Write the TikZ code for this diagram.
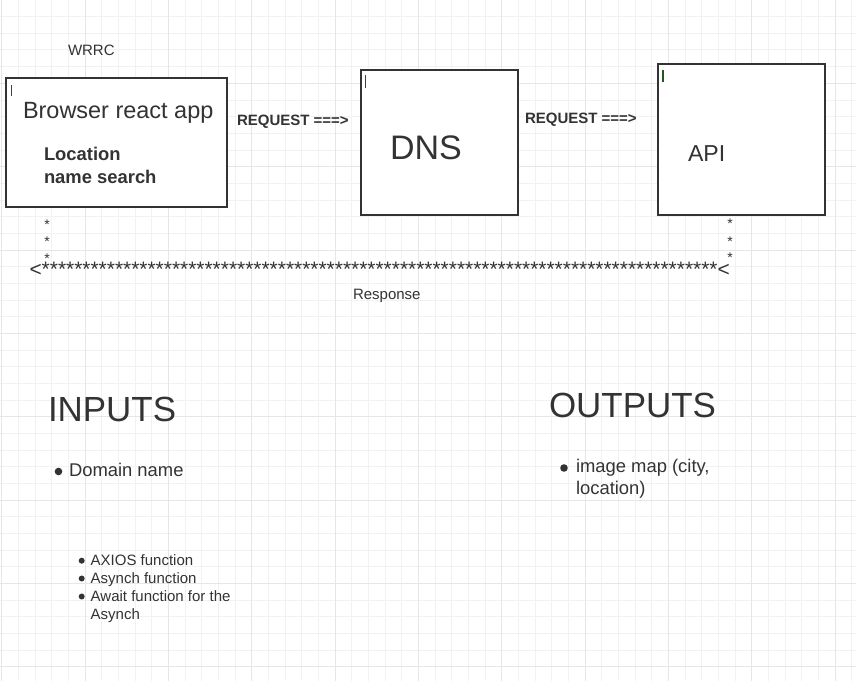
\documentclass[tikz,border=0pt]{standalone}
\usepackage{fontspec}
\setmainfont{Liberation Sans}
\definecolor{txt}{HTML}{333333}
\definecolor{gridminor}{HTML}{F2F2F2}
\definecolor{gridmajor}{HTML}{E6E6E6}
\definecolor{cursorcol}{HTML}{1E5A1E}
\begin{document}
\begin{tikzpicture}[x=0.75pt,y=-0.75pt,
  every node/.style={inner sep=0pt,outer sep=0pt,text=txt,anchor=base west},
  boxnode/.style={draw=txt,line width=0.9pt,fill=white,anchor=center},
  fa/.style={font=\fontsize{11.25pt}{13.5pt}\selectfont},
  fab/.style={font=\fontsize{11.25pt}{13.5pt}\selectfont\bfseries},
  fb/.style={font=\fontsize{13.8pt}{16.5pt}\selectfont},
  fbb/.style={font=\fontsize{13.8pt}{16.5pt}\selectfont\bfseries},
  fc/.style={font=\fontsize{17.6pt}{21pt}\selectfont},
  fapi/.style={font=\fontsize{17.3pt}{21pt}\selectfont},
  fd/.style={font=\fontsize{25.5pt}{30pt}\selectfont},
  fbig/.style={font=\fontsize{26.2pt}{31pt}\selectfont},
  fstar/.style={font=\fontsize{10.5pt}{12pt}\selectfont,anchor=base},
  frow/.style={font=\fontsize{15.7pt}{19pt}\selectfont},
  cursormark/.style={draw=cursorcol,line width=0.9pt},
  bulletdot/.style={fill=txt}
]
\useasboundingbox (0,0) rectangle (856,681);
\fill[white] (0,0) rectangle (856,681);
% grid
\foreach \k in {0,...,51} {\draw[gridminor,line width=0.75pt] ({1.67+16.667*\k},0) -- ({1.67+16.667*\k},681);}
\foreach \k in {0,...,40} {\draw[gridminor,line width=0.75pt] (0,{16.667*\k}) -- (856,{16.667*\k});}
\foreach \k in {0,...,10} {\draw[gridmajor,line width=0.75pt] ({1.67+83.333*\k},0) -- ({1.67+83.333*\k},681);}
\foreach \k in {0,...,8} {\draw[gridmajor,line width=0.75pt] (0,{83.333*\k}) -- (856,{83.333*\k});}

% boxes
\node[boxnode,minimum width=165.75pt,minimum height=96.75pt] (browser) at (116.5,142.5) {};
\node[boxnode,minimum width=117.75pt,minimum height=108.75pt] (dns) at (439.5,142.5) {};
\node[boxnode,minimum width=125.25pt,minimum height=113.25pt] (api) at (741.5,139.5) {};

% cursor marks
\draw[cursormark] (11.5,85) -- (11.5,96);
\draw[cursormark] (365.5,75) -- (365.5,88);
\draw[cursormark] (663,70) -- (663,82);

% texts
\node[fa] (wrrc) at (68,56) {WRRC};
\node[fc] (browsertitle) at (23,119) {Browser react app};
\node[fbb] (loc1) at (44,161) {Location};
\node[fbb] (loc2) at (44,183) {name search};
\node[fab] (req1) at (237,126) {REQUEST ===>};
\node[fab] (req2) at (525,123.3) {REQUEST ===>};
\node[fd] (dnstext) at (390,160) {DNS};
\node[fapi] (apitext) at (688,161.7) {API};

% response stars
\node[fstar] (sl1) at (47,229.5) {*};
\node[fstar] (sl2) at (47,246.8) {*};
\node[fstar] (sl3) at (47,263) {*};
\node[fstar] (sr1) at (730,228.5) {*};
\node[fstar] (sr2) at (730,246.5) {*};
\node[fstar] (sr3) at (730,262.5) {*};
\node[frow] (row) at (29.5,276) {<***********************************************************************************<};
\node[fa] (response) at (353,299) {Response};

% inputs / outputs
\node[fbig] (inputs) at (48,421.7) {INPUTS};
\node[fbig] (outputs) at (549,417) {OUTPUTS};

\fill[bulletdot] (58.5,471.5) circle (3.8);
\node[fb] (domain) at (69,476.7) {Domain name};

\fill[bulletdot] (564,468) circle (3.8);
\node[fb] (img1) at (576,472.7) {image map (city,};
\node[fb] (img2) at (576,494) {location)};

\fill[bulletdot] (81.7,560.7) circle (3.0);
\fill[bulletdot] (81.7,578.5) circle (3.0);
\fill[bulletdot] (81.7,596.5) circle (3.0);
\node[fa] (lst1) at (90.7,565.7) {AXIOS function};
\node[fa] (lst2) at (90.7,583.7) {Asynch function};
\node[fa] (lst3) at (90.7,601.7) {Await function for the};
\node[fa] (lst4) at (90.7,619.5) {Asynch};
\end{tikzpicture}
\end{document}
